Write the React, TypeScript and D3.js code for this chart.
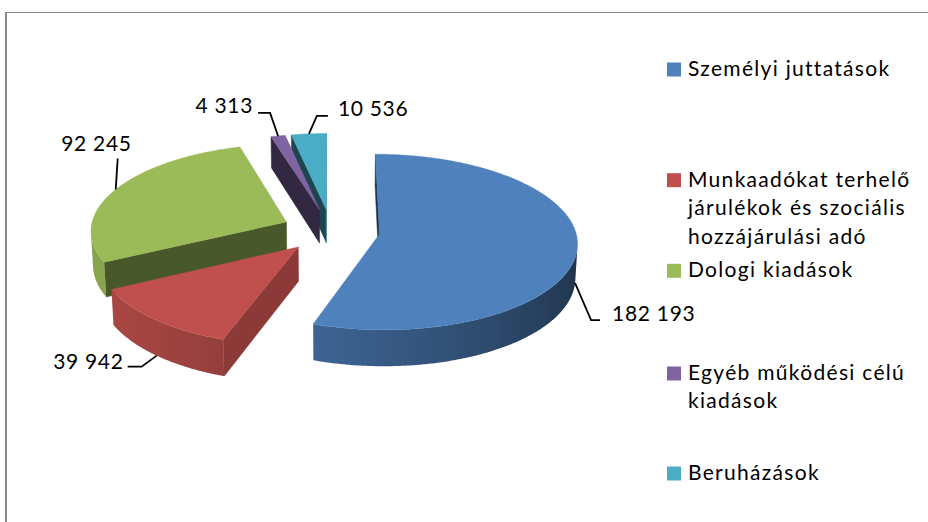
import React from "react";
import * as d3 from "d3";

const categories = [
  "Személyi juttatások",
  "Munkaadókat terhelő járulékok és szociális hozzájárulási adó",
  "Dologi kiadások",
  "Egyéb működési célú kiadások",
  "Beruházások",
];
const values = [182193, 39942, 92245, 4313, 10536];
const colors = ["#4F81BD", "#C0504D", "#9BBB59", "#8064A2", "#4BACC6"];
const legendLines = [
  ["Személyi juttatások"],
  ["Munkaadókat terhelő", "járulékok és szociális", "hozzájárulási adó"],
  ["Dologi kiadások"],
  ["Egyéb működési célú", "kiadások"],
  ["Beruházások"],
];

// layout constants
const W = 928;
const H = 522;
const R = 196;
const DEPTH = 38;
const EXPLODE = 49;
const CX = 331;
const CY = 230.4;
const SIN_E = 0.441;
const COS_E = Math.sqrt(1 - SIN_E * SIN_E);
const DIST = 1934;
const FONT = "Lato, 'Open Sans', sans-serif";
const legendBaselines = [76, 186.7, 277.3, 380, 480];
const LINE_H = 28.4;
// leader layout relative to anchor: elbow, end, text pos, anchor side
const labelLayout = [
  { at: "bottom", elbow: [16, 37], end: [25, 37], text: [37, 38], side: "start" },
  { at: "bottom", elbow: [-15, 11], end: [-29, 11], text: [-33, 13], side: "end" },
  { at: "top", elbow: [2, -31], end: [2, -31], text: [16, -38], side: "end" },
  { at: "top", elbow: [-8, -23], end: [-20, -23], text: [-25, -23], side: "end" },
  { at: "top", elbow: [8, -18], end: [19, -18], text: [29, -18], side: "start" },
];

const fmt = d3
  .formatLocale({ decimal: ",", thousands: " ", grouping: [3], currency: ["", ""] })
  .format(",d");

function proj(u: number, v: number, h: number): [number, number] {
  const yc = v * SIN_E + h * COS_E;
  const zc = v * COS_E - h * SIN_E;
  const k = DIST / (DIST - zc);
  return [CX + u * k, CY + yc * k];
}
function visible(u: number, v: number, nx: number, nz: number) {
  return (0 - u) * nx + (DIST * COS_E - v) * nz > 0;
}
function shade(base: string, f: number) {
  const c = d3.rgb(base);
  return d3.rgb(c.r * f, c.g * f, c.b * f).formatHex();
}
const Lo = (() => {
  const l = Math.hypot(-1, 0.3);
  return [-1 / l, 0.3 / l];
})();
const Lr = (() => {
  const l = Math.hypot(1, -0.3);
  return [1 / l, -0.3 / l];
})();

export default function App() {
  const arcs = d3.pie<number>().sort(null).startAngle(0).endAngle(2 * Math.PI)(values);

  const slices = arcs.map((a, i) => {
    const m = (a.startAngle + a.endAngle) / 2;
    const ox = EXPLODE * Math.sin(m);
    const oz = -EXPLODE * Math.cos(m);
    return { a, i, m, ox, oz };
  });
  const order = [...slices].sort((p, q) => p.oz - q.oz);

  const line = (pts: [number, number][]) =>
    "M" + pts.map((p) => p[0].toFixed(2) + "," + p[1].toFixed(2)).join("L") + "Z";

  const defs: React.ReactNode[] = [];
  const shapes: React.ReactNode[] = [];
  order.forEach((s) => {
    const { a, i, ox, oz } = s;
    const base = colors[i];
    const rim = (t: number) => [ox + R * Math.sin(t), oz - R * Math.cos(t)] as [number, number];
    const a0 = a.startAngle;
    const a1 = a.endAngle;
    // radial walls
    const walls = [
      { t: a0, n: [-Math.cos(a0), -Math.sin(a0)] },
      { t: a1, n: [Math.cos(a1), Math.sin(a1)] },
    ];
    walls.forEach((w, wi) => {
      const r = rim(w.t);
      const mu = (ox + r[0]) / 2;
      const mv = (oz + r[1]) / 2;
      if (!visible(mu, mv, w.n[0], w.n[1])) return;
      const dot = Math.max(0, w.n[0] * Lr[0] + w.n[1] * Lr[1]);
      const col = shade(base, 0.4 + 0.4 * dot);
      shapes.push(
        <path
          key={`w${i}-${wi}`}
          d={line([proj(ox, oz, 0), proj(r[0], r[1], 0), proj(r[0], r[1], DEPTH), proj(ox, oz, DEPTH)])}
          fill={col}
          stroke={col}
          strokeWidth={0.5}
        />
      );
    });
    // outer wall: visible contiguous run, gradient fill
    const n = Math.max(4, Math.ceil((a1 - a0) / (Math.PI / 360)));
    const vis: number[] = [];
    for (let j = 0; j <= n; j++) {
      const t = a0 + ((a1 - a0) * j) / n;
      const pm = rim(t);
      if (visible(pm[0], pm[1], Math.sin(t), -Math.cos(t))) vis.push(t);
    }
    if (vis.length > 1) {
      const top: [number, number][] = vis.map((t) => {
        const r = rim(t);
        return proj(r[0], r[1], 0);
      });
      const bot: [number, number][] = vis
        .slice()
        .reverse()
        .map((t) => {
          const r = rim(t);
          return proj(r[0], r[1], DEPTH);
        });
      const xs = top.map((p) => p[0]);
      const minX = Math.min(...xs);
      const maxX = Math.max(...xs);
      const stops = vis
        .filter((_, k) => k % 6 === 0 || k === vis.length - 1)
        .map((t) => {
          const r = rim(t);
          const px = proj(r[0], r[1], DEPTH / 2)[0];
          const dot = Math.sin(t) * Lo[0] + -Math.cos(t) * Lo[1];
          return { off: (px - minX) / Math.max(1, maxX - minX), col: shade(base, 0.38 + 0.25 * (1 + dot)) };
        })
        .sort((p, q) => p.off - q.off);
      const gid = `g${i}`;
      defs.push(
        <linearGradient key={gid} id={gid} gradientUnits="userSpaceOnUse" x1={minX} x2={maxX} y1={0} y2={0}>
          {stops.map((st, k) => (
            <stop key={k} offset={Math.min(1, Math.max(0, st.off))} stopColor={st.col} />
          ))}
        </linearGradient>
      );
      shapes.push(<path key={`o${i}`} d={line([...top, ...bot])} fill={`url(#${gid})`} />);
    }
    // top face
    const pts: [number, number][] = [proj(ox, oz, 0)];
    const nt = Math.max(2, Math.ceil((a1 - a0) / (Math.PI / 360)));
    for (let j = 0; j <= nt; j++) {
      const t = a0 + ((a1 - a0) * j) / nt;
      const r = rim(t);
      pts.push(proj(r[0], r[1], 0));
    }
    shapes.push(<path key={`t${i}`} d={line(pts)} fill={base} stroke={base} strokeWidth={0.4} />);
  });

  // labels
  const labels = slices.map((s) => {
    const L = labelLayout[s.i];
    const u = s.ox + R * Math.sin(s.m);
    const v = s.oz - R * Math.cos(s.m);
    const p = proj(u, v, L.at === "bottom" ? DEPTH : 0);
    const e = [p[0] + L.elbow[0], p[1] + L.elbow[1]];
    const en = [p[0] + L.end[0], p[1] + L.end[1]];
    return (
      <g key={`l${s.i}`}>
        <polyline
          points={`${p[0]},${p[1]} ${e[0]},${e[1]} ${en[0]},${en[1]}`}
          fill="none"
          stroke="#000"
          strokeWidth={1.8}
        />
        <text
          x={p[0] + L.text[0]}
          y={p[1] + L.text[1]}
          textAnchor={L.side as any}
          fontFamily={FONT}
          fontSize={21}
          letterSpacing={0.7}
          fill="#000"
        >
          {fmt(values[s.i])}
        </text>
      </g>
    );
  });

  return (
    <svg
      width={W}
      height={H}
      viewBox={`0 0 ${W} ${H}`}
      style={{ position: "fixed", left: 0, top: 0, background: "#fff" }}
    >
      <defs>{defs}</defs>
      <rect x={0} y={0} width={W} height={H} fill="#fff" />
      <line x1={6} y1={12} x2={6} y2={H} stroke="#888" strokeWidth={2} />
      <line x1={5} y1={12.5} x2={W} y2={12.5} stroke="#888" strokeWidth={1.2} />
      {shapes}
      {labels}
      <g>
        {categories.map((c, i) => (
          <g key={c}>
            <rect x={667} y={legendBaselines[i] - 13.5} width={14} height={14} fill={colors[i]} />
            <text fontFamily={FONT} fontSize={21} letterSpacing={1.3} fill="#000">
              {legendLines[i].map((ln, k) => (
                <tspan key={k} x={688} y={legendBaselines[i] + k * LINE_H}>
                  {ln}
                </tspan>
              ))}
            </text>
          </g>
        ))}
      </g>
    </svg>
  );
}
